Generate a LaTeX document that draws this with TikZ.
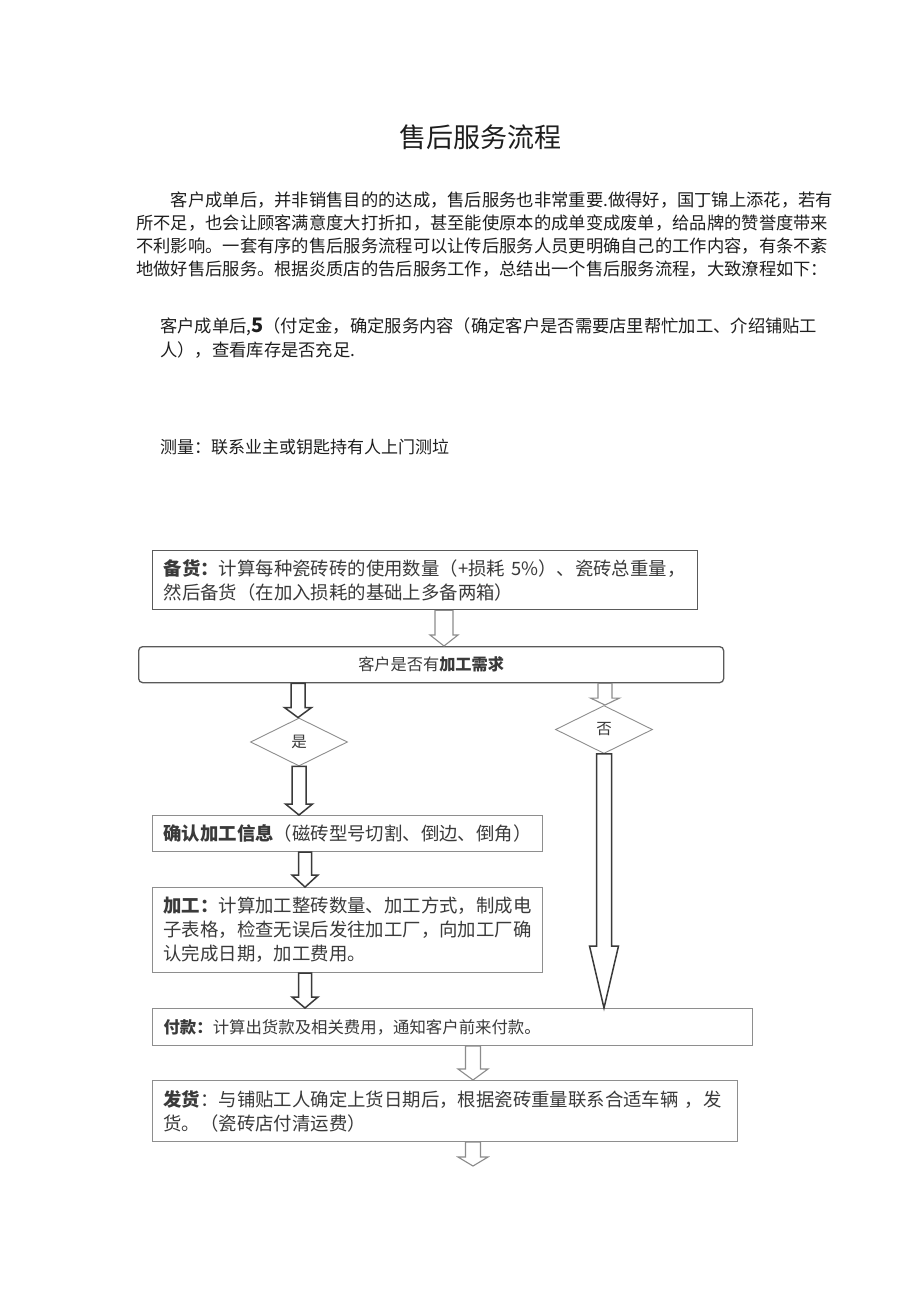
\documentclass[tikz,border=0pt]{standalone}
\usepackage{fontspec}
\setmainfont{Noto Sans CJK SC}
\usetikzlibrary{shapes.geometric,calc}
\definecolor{bodytext}{HTML}{1E1E1E}
\definecolor{flowtext}{HTML}{3A3A3A}
\definecolor{boxgray}{HTML}{8E8E8E}
\definecolor{boxdark}{HTML}{5A5A5A}
\definecolor{arrdark}{HTML}{3A3A3A}
\definecolor{arrlight}{HTML}{8C8C8C}
\newcommand{\bodyfont}{\fontsize{17.3}{23}\selectfont}
\newcommand{\flowfont}{\fontsize{18.4}{24}\selectfont}
\newcommand{\smallflow}{\fontsize{16.2}{20}\selectfont}
% hollow block arrow: #1 style, #2 start, #3 end (its y), #4 shaft half width, #5 head half width, #6 head length
\newcommand{\harrow}[6]{%
  \draw[#1] let \p1=(#2), \p2=(#3) in
    (\x1-#4pt,\y1) -- (\x1+#4pt,\y1) -- (\x1+#4pt,\y2+#6pt) -- (\x1+#5pt,\y2+#6pt)
    -- (\x1,\y2) -- (\x1-#5pt,\y2+#6pt) -- (\x1-#4pt,\y2+#6pt) -- cycle;}
\tikzset{
  bodyline/.style={anchor=base west, inner sep=0pt, font=\bodyfont, text=bodytext},
  flow/.style={draw=boxgray, line width=1.1pt, anchor=north west, inner xsep=11pt,
    inner ysep=0pt, align=left, font=\flowfont, text=flowtext},
  decision/.style={diamond, draw=boxgray, line width=0.9pt, minimum width=97pt,
    minimum height=48pt, inner sep=0pt, font=\fontsize{15.5}{16}\selectfont, text=flowtext},
  darkarrow/.style={draw=arrdark, line width=1.5pt, line join=miter},
  lightarrow/.style={draw=arrlight, line width=1.1pt, line join=miter},
}
\begin{document}
\begin{tikzpicture}[x=1pt,y=-1pt]
\fill[white] (0,0) rectangle (920,1301);
\useasboundingbox (0,0) rectangle (920,1301);

% title
\node[anchor=base, inner sep=0pt, font=\fontsize{27}{30}\selectfont, text=bodytext] (title) at (480,147) {售后服务流程};

% first paragraph
\node[bodyline] (p1a) at (170.6,206.6) {客户成单后，并非销售目的的达成，售后服务也非常重要.做得好，国丁锦上添花，若有};
\node[bodyline] (p1b) at (136,229.6) {所不足，也会让顾客满意度大打折扣，甚至能使原本的成单变成废单，给品牌的赞誉度带来};
\node[bodyline] (p1c) at (136,252.6) {不利影响。一套有序的售后服务流程可以让传后服务人员更明确自己的工作内容，有条不紊};
\node[bodyline] (p1d) at (136,275.6) {地做好售后服务。根据炎质店的告后服务工作，总结出一个售后服务流程，大致潦程如下：};

% second paragraph
\node[bodyline] (p2a) at (160,332.6) {客户成单后,{\fontsize{20}{20}\selectfont\bfseries 5}（付定金，确定服务内容（确定客户是否需要店里帮忙加工、介绍铺贴工};
\node[bodyline] (p2b) at (160,356.6) {人），查看库存是否充足.};

\node[bodyline, font=\fontsize{17}{20}\selectfont] (p3) at (160,453.5) {测量：联系业主或钥匙持有人上门测垃};

% flowchart boxes
\node[flow, draw=boxdark, line width=1.3pt, minimum width=545pt, minimum height=59pt, text width=523pt] (b1) at (152,550)
  {\textbf{备货：}计算每种瓷砖砖的使用数量（+损耗 5\%）、瓷砖总重量，\\然后备货（在加入损耗的基础上多备两箱）};
\node[flow, draw=boxdark, line width=1.3pt, rounded corners=4pt, minimum width=585pt, minimum height=36pt,
  text width=563pt, align=center, font=\smallflow] (b2) at (138,646) {客户是否有\textbf{加工需求}};

\node[decision] (yes) at (299,742) {是};
\node[decision] (no) at (604,729.5) {否};

\node[flow, minimum width=390pt, minimum height=36pt, text width=368pt] (confirm) at (152,815)
  {\textbf{确认加工信息}（磁砖型号切割、倒边、倒角）};
\node[flow, minimum width=390pt, minimum height=85pt, text width=368pt] (process) at (152,887)
  {\textbf{加工：}计算加工整砖数量、加工方式，制成电\\子表格，检查无误后发往加工厂，向加工厂确\\认完成日期，加工费用。};
\node[flow, minimum width=600pt, minimum height=37pt, text width=578pt, font=\fontsize{16.4}{20}\selectfont] (pay) at (152,1008)
  {\textbf{付款：}计算出货款及相关费用，通知客户前来付款。};
\node[flow, minimum width=585pt, minimum height=61pt, text width=563pt] (ship) at (152,1080)
  {\textbf{发货}：与铺贴工人确定上货日期后，根据瓷砖重量联系合适车辆 ，发\\货。（瓷砖店付清运费）};
\coordinate (endA) at (473,1166);

% hollow block arrows
\harrow{lightarrow}{$(b1.south west)+(292,0)$}{b2.north}{9}{14}{11}
\harrow{darkarrow}{$(b2.south west)+(160,0)$}{yes.north}{7}{13.5}{10}
\harrow{darkarrow}{yes.south}{confirm.north}{7}{13.5}{11}
\harrow{darkarrow}{$(confirm.south west)+(153,0)$}{process.north}{6.5}{13}{12}
\harrow{darkarrow}{$(process.south west)+(153,0)$}{pay.north}{6.5}{13}{11}
\harrow{lightarrow}{$(b2.south west)+(467,0)$}{no.north}{7}{14.5}{7}
\harrow{darkarrow}{no.south}{pay.north}{7.5}{14.5}{62}
\harrow{lightarrow}{$(pay.south west)+(321,0)$}{ship.north}{7.5}{15}{11}
\harrow{lightarrow}{$(ship.south west)+(321,0)$}{endA}{7.5}{15}{9}
\end{tikzpicture}
\end{document}
